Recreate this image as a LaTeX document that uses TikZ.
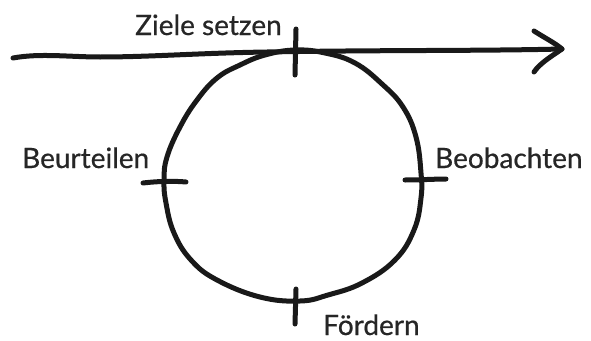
\documentclass[tikz,border=0pt]{standalone}
\usepackage{fontspec}
\setmainfont{Lato}[FakeBold=0.6]
\begin{document}
\begin{tikzpicture}[x=1pt,y=-1pt,
  pen/.style={line width=5pt,line cap=round,line join=round,black!90},
  lbl/.style={anchor=base west,inner sep=0pt,font=\fontsize{28}{30}\selectfont,text=black!85}]
\useasboundingbox (0,0) rectangle (591,340);
% main arrow line
\coordinate (ls) at (13,58);
\coordinate (tip) at (562,49);
\coordinate (hu) at (534,31);
\coordinate (hd) at (534,72);
\draw[pen] (ls) .. controls (40,53) and (70,57) .. (100,57)
  .. controls (150,57) and (200,53) .. (267,52)
  .. controls (380,50) and (480,51) .. (tip);
\draw[pen] (hu) .. controls (545,38) and (555,43) .. (tip) .. controls (552,56) and (540,63) .. (hd);
% circle
\draw[pen] plot[smooth cycle,tension=0.7] coordinates {
 (295,50) (325,53) (355,63) (382,84) (403,107) (416,137) (421,173)
 (421,198) (414,230) (395,260) (362,283) (328,295) (300,301)
 (260,297) (217,280) (191,260) (174,233) (166,203) (164,180) (167,157)
 (180,127) (197,100) (217,78) (240,65) (265,55)};
% ticks
\coordinate (t1) at (296,29); \coordinate (t2) at (295,75);
\coordinate (b1) at (296,289); \coordinate (b2) at (295,324);
\coordinate (l1) at (143,183); \coordinate (l2) at (186,182);
\coordinate (r1) at (405,180); \coordinate (r2) at (446,179);
\draw[pen] (t1) -- (t2);
\draw[pen] (b1) -- (b2);
\draw[pen] (l1) .. controls (160,181) and (175,181) .. (l2);
\draw[pen] (r1) .. controls (420,180) and (435,179) .. (r2);
% labels
\node[lbl] (ziele) at (135,35) {Ziele setzen};
\node[lbl] (beurt) at (22,168) {Beurteilen};
\node[lbl] (beob) at (435,168) {Beobachten};
\node[lbl] (foerd) at (323,335) {Fördern};
\end{tikzpicture}
\end{document}
